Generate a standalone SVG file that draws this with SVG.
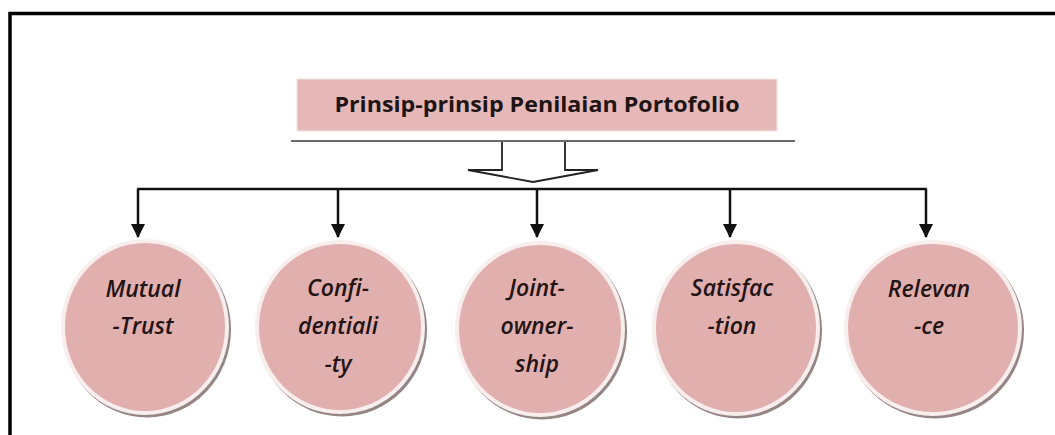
<svg xmlns="http://www.w3.org/2000/svg" width="1055" height="435" viewBox="0 0 1055 435">
<style>
.node-shadow{fill:#958585;}
.node-ring{fill:#f8eeee;}
.node-fill{fill:#e2afaf;}
.lbl{font-family:"Open Sans","Liberation Sans",sans-serif;font-style:italic;font-weight:600;font-size:23px;fill:#231414;text-anchor:middle;}
.title{font-family:"Open Sans","Liberation Sans",sans-serif;font-weight:bold;font-size:21px;fill:#1e1414;text-anchor:middle;}
.conn{stroke:#111;stroke-width:2.5;fill:none;}
</style>
<defs>
<marker id="ah" viewBox="0 0 14 14" refX="13" refY="7" markerWidth="14" markerHeight="14" markerUnits="userSpaceOnUse" orient="auto">
<path d="M0,0 L14,7 L0,14 Z" fill="#111"/>
</marker>
</defs>
<rect x="0" y="0" width="1055" height="435" fill="#fff"/>
<path d="M10,440 L10,13.5 L1060,13.5" fill="none" stroke="#000" stroke-width="3.5"/>

<g id="header">
<rect x="297" y="79" width="480" height="52" fill="#e6b9b8" stroke="#f3e3e3" stroke-width="1"/>
<line x1="291" y1="141" x2="795" y2="141" stroke="#6a6a6a" stroke-width="2.2"/>
<text class="title" x="537" y="112" textLength="405" lengthAdjust="spacingAndGlyphs">Prinsip-prinsip Penilaian Portofolio</text>
</g>

<g id="connectors">
<path d="M502,142 L502,170 L468,170 L533,182 L598,170 L565,170 L565,142" fill="#fff" stroke="#222" stroke-width="1.8" stroke-linejoin="miter"/>
<line x1="137" y1="189" x2="927" y2="189" class="conn"/>
<line x1="138" y1="189" x2="138" y2="237" class="conn" marker-end="url(#ah)"/>
<line x1="338" y1="189" x2="338" y2="237" class="conn" marker-end="url(#ah)"/>
<line x1="537" y1="189" x2="537" y2="237" class="conn" marker-end="url(#ah)"/>
<line x1="730" y1="189" x2="730" y2="237" class="conn" marker-end="url(#ah)"/>
<line x1="926" y1="189" x2="926" y2="237" class="conn" marker-end="url(#ah)"/>
</g>

<g id="node-mutual-trust">
<ellipse class="node-shadow" cx="147" cy="329.5" rx="84" ry="88"/>
<ellipse class="node-ring" cx="145" cy="327" rx="84" ry="88"/>
<ellipse class="node-fill" cx="145" cy="327" rx="80" ry="84"/>
<text class="lbl" x="143" y="297">Mutual</text>
<text class="lbl" x="143" y="334">-Trust</text>
</g>

<g id="node-confidentiality">
<ellipse class="node-shadow" cx="342" cy="329.5" rx="85" ry="87"/>
<ellipse class="node-ring" cx="340" cy="327" rx="85" ry="87"/>
<ellipse class="node-fill" cx="340" cy="327" rx="81" ry="83"/>
<text class="lbl" x="338" y="296">Confi-</text>
<text class="lbl" x="338" y="334">dentiali</text>
<text class="lbl" x="338" y="372">-ty</text>
</g>

<g id="node-joint-ownership">
<ellipse class="node-shadow" cx="542" cy="331.5" rx="85" ry="88"/>
<ellipse class="node-ring" cx="540" cy="329" rx="85" ry="88"/>
<ellipse class="node-fill" cx="540" cy="329" rx="81" ry="84"/>
<text class="lbl" x="537" y="296">Joint-</text>
<text class="lbl" x="537" y="334">owner-</text>
<text class="lbl" x="537" y="372">ship</text>
</g>

<g id="node-satisfaction">
<ellipse class="node-shadow" cx="738" cy="330.5" rx="84" ry="88"/>
<ellipse class="node-ring" cx="736" cy="328" rx="84" ry="88"/>
<ellipse class="node-fill" cx="736" cy="328" rx="80" ry="84"/>
<text class="lbl" x="732" y="296">Satisfac</text>
<text class="lbl" x="732" y="334">-tion</text>
</g>

<g id="node-relevance">
<ellipse class="node-shadow" cx="935" cy="330.5" rx="89" ry="88"/>
<ellipse class="node-ring" cx="933" cy="328" rx="89" ry="88"/>
<ellipse class="node-fill" cx="933" cy="328" rx="85" ry="84"/>
<text class="lbl" x="929" y="297">Relevan</text>
<text class="lbl" x="929" y="334">-ce</text>
</g>
</svg>
